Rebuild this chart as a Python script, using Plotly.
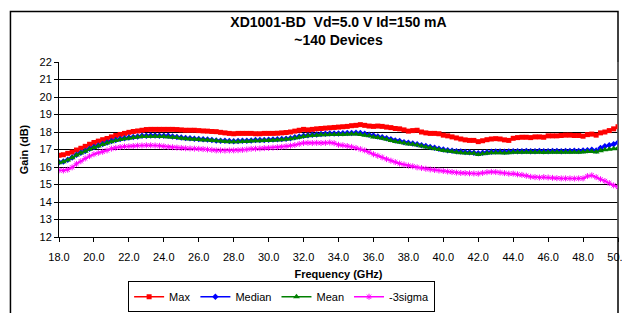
import numpy as np
import plotly.graph_objects as go

freq = np.linspace(18.0, 50.0, 129)

gain_max = [
    16.67, 16.70, 16.78, 16.85, 16.97, 17.07, 17.18, 17.30,
    17.40, 17.48, 17.56, 17.63, 17.72, 17.80, 17.86, 17.92,
    17.98, 18.03, 18.06, 18.10, 18.14, 18.15, 18.15, 18.15,
    18.15, 18.15, 18.15, 18.14, 18.12, 18.10, 18.10, 18.10,
    18.08, 18.06, 18.05, 18.03, 18.02, 17.98, 17.95, 17.92,
    17.90, 17.92, 17.92, 17.92, 17.92, 17.90, 17.90, 17.92,
    17.92, 17.92, 17.93, 17.95, 17.97, 18.00, 18.05, 18.10,
    18.15, 18.12, 18.15, 18.18, 18.20, 18.22, 18.24, 18.26,
    18.28, 18.30, 18.32, 18.36, 18.38, 18.42, 18.38, 18.34,
    18.32, 18.34, 18.32, 18.28, 18.25, 18.20, 18.18, 18.12,
    18.05, 18.08, 18.10, 18.00, 17.95, 17.92, 17.92, 17.90,
    17.82, 17.78, 17.72, 17.66, 17.60, 17.55, 17.52, 17.52,
    17.45, 17.50, 17.56, 17.60, 17.62, 17.60, 17.55, 17.52,
    17.64, 17.68, 17.70, 17.70, 17.68, 17.72, 17.72, 17.70,
    17.78, 17.78, 17.78, 17.80, 17.82, 17.82, 17.80, 17.80,
    17.76, 17.85, 17.88, 17.82, 17.95, 18.00, 18.08, 18.18,
    18.30,
]

gain_median = [
    16.27, 16.32, 16.42, 16.55, 16.70, 16.82, 16.92, 17.05,
    17.15, 17.23, 17.32, 17.40, 17.48, 17.55, 17.60, 17.65,
    17.68, 17.72, 17.75, 17.78, 17.79, 17.80, 17.80, 17.79,
    17.79, 17.78, 17.75, 17.72, 17.68, 17.66, 17.64, 17.62,
    17.60, 17.58, 17.57, 17.55, 17.52, 17.50, 17.50, 17.48,
    17.47, 17.48, 17.50, 17.50, 17.52, 17.54, 17.55, 17.55,
    17.56, 17.57, 17.58, 17.60, 17.62, 17.65, 17.70, 17.74,
    17.78, 17.82, 17.85, 17.86, 17.88, 17.90, 17.92, 17.92,
    17.92, 17.93, 17.94, 17.95, 17.96, 17.94, 17.90, 17.85,
    17.80, 17.75, 17.70, 17.65, 17.58, 17.52, 17.48, 17.42,
    17.38, 17.35, 17.30, 17.25, 17.20, 17.15, 17.10, 17.05,
    17.00, 16.96, 16.93, 16.90, 16.88, 16.86, 16.84, 16.82,
    16.78, 16.82, 16.85, 16.87, 16.88, 16.88, 16.87, 16.88,
    16.90, 16.90, 16.90, 16.92, 16.90, 16.90, 16.91, 16.90,
    16.90, 16.92, 16.92, 16.90, 16.92, 16.92, 16.93, 16.92,
    16.94, 16.96, 16.98, 16.95, 17.08, 17.18, 17.24, 17.30,
    17.40,
]

gain_mean = [
    16.25, 16.30, 16.40, 16.53, 16.68, 16.80, 16.90, 17.02,
    17.12, 17.20, 17.29, 17.37, 17.45, 17.52, 17.57, 17.62,
    17.65, 17.69, 17.72, 17.74, 17.75, 17.75, 17.76, 17.75,
    17.74, 17.72, 17.70, 17.68, 17.65, 17.62, 17.60, 17.58,
    17.57, 17.55, 17.54, 17.52, 17.50, 17.48, 17.46, 17.45,
    17.44, 17.45, 17.46, 17.46, 17.48, 17.50, 17.50, 17.52,
    17.52, 17.53, 17.55, 17.56, 17.58, 17.62, 17.66, 17.70,
    17.74, 17.78, 17.80, 17.82, 17.84, 17.85, 17.86, 17.86,
    17.86, 17.86, 17.87, 17.88, 17.88, 17.86, 17.82, 17.78,
    17.72, 17.68, 17.64, 17.58, 17.52, 17.46, 17.42, 17.37,
    17.32, 17.30, 17.26, 17.20, 17.15, 17.10, 17.05, 17.00,
    16.95, 16.91, 16.88, 16.85, 16.82, 16.80, 16.79, 16.78,
    16.72, 16.76, 16.79, 16.81, 16.82, 16.82, 16.80, 16.82,
    16.84, 16.84, 16.84, 16.85, 16.84, 16.84, 16.84, 16.83,
    16.84, 16.84, 16.85, 16.84, 16.84, 16.85, 16.85, 16.84,
    16.86, 16.88, 16.88, 16.86, 16.93, 16.98, 17.02, 17.05,
    17.09,
]

gain_m3sigma = [
    15.81, 15.80, 15.85, 15.98, 16.18, 16.33, 16.49, 16.62,
    16.73, 16.81, 16.87, 16.95, 17.05, 17.10, 17.14, 17.17,
    17.18, 17.20, 17.22, 17.23, 17.24, 17.24, 17.23, 17.21,
    17.18, 17.15, 17.13, 17.11, 17.09, 17.07, 17.06, 17.05,
    17.04, 17.02, 17.00, 16.98, 16.95, 16.95, 16.94, 16.95,
    16.95, 16.96, 16.98, 17.00, 17.04, 17.05, 17.06, 17.08,
    17.09, 17.11, 17.13, 17.15, 17.18, 17.22, 17.26, 17.32,
    17.37, 17.38, 17.37, 17.38, 17.37, 17.38, 17.40, 17.36,
    17.27, 17.24, 17.20, 17.15, 17.09, 17.02, 16.95, 16.85,
    16.73, 16.64, 16.55, 16.45, 16.36, 16.28, 16.20, 16.14,
    16.08, 16.04, 15.98, 15.94, 15.90, 15.86, 15.83, 15.80,
    15.77, 15.74, 15.71, 15.68, 15.66, 15.65, 15.64, 15.63,
    15.62, 15.66, 15.70, 15.72, 15.71, 15.68, 15.65, 15.62,
    15.62, 15.58, 15.55, 15.50, 15.44, 15.42, 15.40, 15.42,
    15.40, 15.38, 15.36, 15.35, 15.35, 15.35, 15.34, 15.35,
    15.35, 15.48, 15.52, 15.42, 15.30, 15.20, 15.08, 14.95,
    14.86,
]

x_ticks = [18 + 2 * i for i in range(17)]
x_tick_labels = [f"{v:.1f}" for v in x_ticks]
y_ticks = list(range(12, 23))

FONT = "Liberation Sans, Arial, sans-serif"

series = [
    ("Max", gain_max, "#ff0000", dict(symbol="square", size=5)),
    ("Median", gain_median, "#0000ff", dict(symbol="diamond", size=5)),
    ("Mean", gain_mean, "#008000", dict(symbol="triangle-up", size=6)),
    ("-3sigma", gain_m3sigma, "#ff00ff", dict(symbol="asterisk-open", size=5, line=dict(width=1, color="#ff00ff"))),
]

fig = go.Figure()
for name, vals, color, mk in series:
    assert len(vals) == len(freq)
    fig.add_trace(go.Scatter(
        x=freq, y=vals, name=name, mode="lines+markers",
        line=dict(color=color, width=1.5),
        marker=dict(color=color, **mk),
    ))

W, H = 630, 313
L, R, T, B = 51, 9, 54, 77
pw, ph = W - L - R, H - T - B

def px2x(px):
    return (px - L) / pw

def py2y(py):
    return (H - B - py) / ph

fig.update_layout(
    width=W, height=H,
    margin=dict(l=L, r=R, t=T, b=B),
    paper_bgcolor="white", plot_bgcolor="white",
    font=dict(family=FONT, size=11, color="black"),
    title=dict(
        text="<b>XD1001-BD  Vd=5.0 V Id=150 mA</b><br><b>~140 Devices</b>",
        x=0.5, xref="paper", xanchor="center",
        y=1 - 19 / H, yanchor="top",
        font=dict(family=FONT, size=14, color="black"),
    ),
    xaxis=dict(
        range=[18, 50], tickvals=x_ticks, ticktext=x_tick_labels,
        showgrid=False, zeroline=False,
        showline=True, linecolor="black", linewidth=1,
        ticks="outside", ticklen=4, tickcolor="black",
        tickfont=dict(size=11), ticklabeloverflow="allow",
        ticklabelstandoff=6,
        title=dict(text="<b>Frequency (GHz)</b>", font=dict(size=11), standoff=8),
    ),
    yaxis=dict(
        range=[12, 22], tickvals=y_ticks,
        showgrid=True, gridcolor="black", gridwidth=1,
        zeroline=False,
        showline=True, linecolor="black", linewidth=1,
        ticks="outside", ticklen=4, tickcolor="black",
        tickfont=dict(size=11),
        title=dict(text="<b>Gain (dB)</b>", font=dict(size=11), standoff=8),
    ),
    legend=dict(
        orientation="h",
        x=px2x(278), xanchor="center",
        y=py2y(282), yanchor="top",
        bordercolor="black", borderwidth=1,
        font=dict(size=11),
        itemwidth=30,
        tracegroupgap=0,
    ),
    showlegend=True,
    shapes=[
        dict(type="line", xref="paper", yref="paper",
             x0=1, x1=1, y0=0, y1=1, line=dict(color="#808080", width=1)),
        dict(type="rect", xref="paper", yref="paper",
             x0=px2x(1.5), x1=px2x(621), y0=py2y(330), y1=py2y(1.5),
             line=dict(color="black", width=1.5), fillcolor="rgba(0,0,0,0)",
             layer="below"),
    ],
)

fig.write_html("out.html")
